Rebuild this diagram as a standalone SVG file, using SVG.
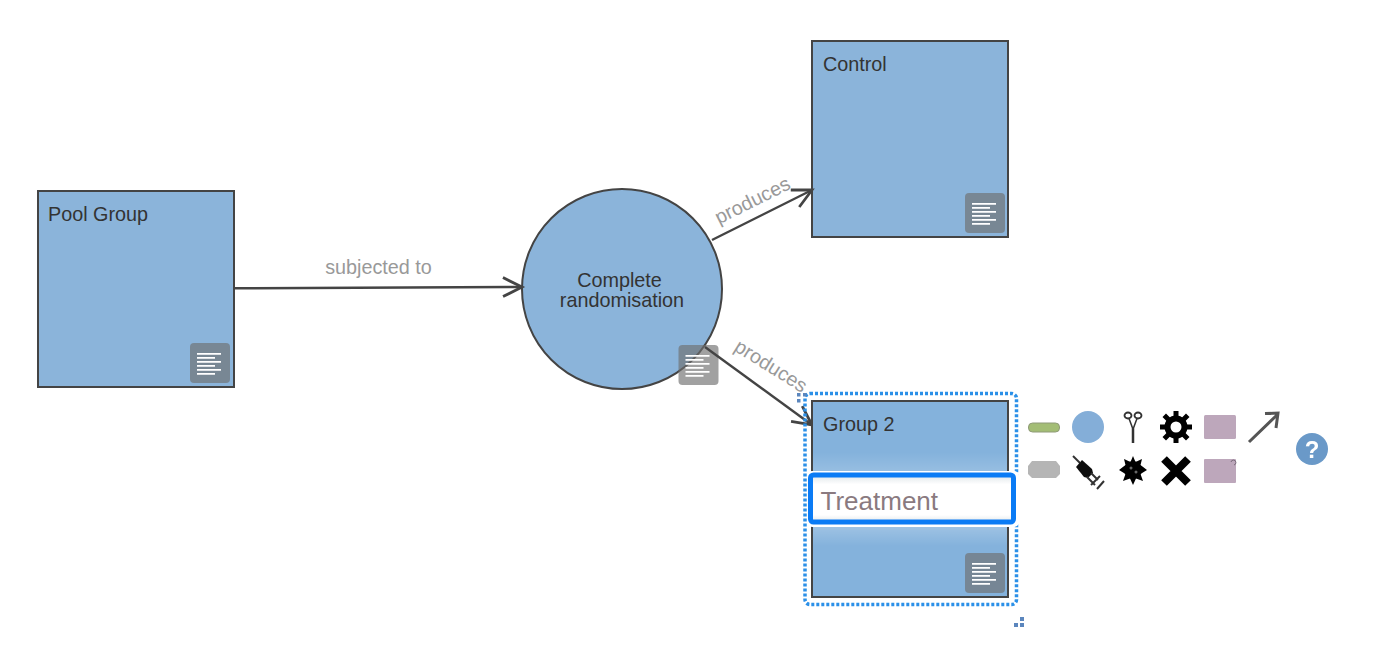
<svg xmlns="http://www.w3.org/2000/svg" width="1388" height="654" viewBox="0 0 1388 654">
<defs>
<g id="note"><rect x="0" y="0" width="40" height="40" rx="4" fill="#6e6e6e" fill-opacity="0.65"/><path d="M7 10.800H31M7 14.800H25M7 18.800H31M7 22.800H25M7 26.800H31M7 30.800H25" stroke="#fff" stroke-width="1.700" fill="none"/></g>
<marker id="arr" markerUnits="userSpaceOnUse" markerWidth="26" markerHeight="26" refX="22" refY="12" orient="auto" viewBox="0 0 26 24"><path d="M3 2.500L22 12L3 21.500" fill="none" stroke="#444" stroke-width="2.800"/></marker>
<linearGradient id="fade" x1="0" y1="0" x2="0" y2="1"><stop offset="0" stop-color="#dfe5e8"/><stop offset="0.2" stop-color="#fff"/><stop offset="0.85" stop-color="#fff"/><stop offset="1" stop-color="#e3e8ea"/></linearGradient>
<linearGradient id="glowUp" x1="0" y1="1" x2="0" y2="0"><stop offset="0" stop-color="#fff" stop-opacity="0.16"/><stop offset="1" stop-color="#fff" stop-opacity="0"/></linearGradient>
<linearGradient id="glowDown" x1="0" y1="0" x2="0" y2="1"><stop offset="0" stop-color="#fff" stop-opacity="0.22"/><stop offset="1" stop-color="#fff" stop-opacity="0"/></linearGradient>
<filter id="soft" x="-5%" y="-5%" width="110%" height="110%"><feGaussianBlur stdDeviation="0.55"/></filter>
</defs>
<style>
text{font-family:"Liberation Sans",Arial,sans-serif}
.box{fill:#8bb4da;stroke:#444;stroke-width:2}
.lab{font-size:19.800px;fill:#333}
.edge{font-size:19.800px;fill:#999}
.con{fill:none;stroke:#444;stroke-width:2.400;marker-end:url(#arr)}
.handle{fill:#5b86bd}
</style>
<g id="node-pool"><rect class="box" x="38" y="191" width="196" height="196"/><text class="lab" x="48" y="221">Pool Group</text><use href="#note" x="190" y="343"/></g>
<g id="node-control"><rect class="box" x="812" y="41" width="196" height="196"/><text class="lab" x="823" y="71">Control</text><use href="#note" x="965" y="193"/></g>
<g id="node-random"><circle class="box" cx="622" cy="289" r="100"/><text class="lab" x="619.500" y="287" text-anchor="middle">Complete</text><text class="lab" x="622" y="307" text-anchor="middle">randomisation</text><use href="#note" x="678.500" y="345"/></g>
<g id="connectors">
<path class="con" d="M235 288.300L522 287"/>
<path class="con" d="M712 240L812 190"/>
<path class="con" d="M705 347L812 425"/>
<text class="edge" x="378.500" y="274" text-anchor="middle">subjected to</text>
<text class="edge" transform="translate(719 224.500) rotate(-26.500)">produces</text>
<text class="edge" transform="translate(733 350) rotate(32)">produces</text>
</g>
<g id="node-group2"><rect x="812" y="401" width="196" height="196" fill="#84b2dc" stroke="#444" stroke-width="2"/><text class="lab" x="823" y="431">Group 2</text><use href="#note" x="965" y="553"/>
<rect x="813" y="452" width="194" height="20" fill="url(#glowUp)"/>
<rect x="813" y="526" width="194" height="20" fill="url(#glowDown)"/>
<rect x="805" y="393.500" width="211.500" height="211" rx="5" fill="none" stroke="#2b90e8" stroke-width="3.500" stroke-dasharray="3 2"/>
<rect x="807" y="471" width="212" height="56" rx="5" fill="#fff"/>
<rect x="810.500" y="475" width="203" height="47" rx="3" fill="url(#fade)" stroke="#0a7bf5" stroke-width="5"/>
<text x="820.500" y="510" font-size="26" fill="#8a7a80">Treatment</text></g>
<g id="handles">
<rect class="handle" x="797" y="393" width="3.500" height="3.500"/><rect class="handle" x="803" y="393" width="3.500" height="3.500"/><rect class="handle" x="797" y="399" width="3.500" height="3.500"/>
<rect class="handle" x="1020" y="617" width="4" height="4"/><rect class="handle" x="1014" y="623" width="4" height="4"/><rect class="handle" x="1020" y="623" width="4" height="4"/>
</g>
<g id="palette" filter="url(#soft)">
<rect x="1028.500" y="423" width="31" height="9" rx="4" fill="#a3bd75" stroke="#8f9a78" stroke-width="1"/>
<circle cx="1088" cy="427" r="16" fill="#84aed8"/>
<g fill="none" stroke="#333"><ellipse cx="1128" cy="415.500" rx="3.500" ry="3" stroke-width="1.800"/><ellipse cx="1138" cy="415.500" rx="3.500" ry="3" stroke-width="1.800"/><path d="M1129 418.500L1132.500 428V443M1137 418.500L1133.500 428V443" stroke-width="1.500"/></g>
<circle cx="1176" cy="427" r="8.500" fill="none" stroke="#000" stroke-width="6"/>
<path d="M1173.500 411h5v7h-5zM1173.500 436h5v7h-5zM1160 424.500h7v5h-7zM1185 424.500h7v5h-7zM1162.500 417l3.500-3.500 5 5-3.500 3.500zM1189.500 417l-3.500-3.500-5 5 3.500 3.500zM1162.500 437l3.500 3.500 5-5-3.500-3.500zM1189.500 437l-3.500 3.500-5-5 3.500-3.500z" fill="#000"/>
<rect x="1204" y="415" width="32" height="24" rx="1.500" fill="#bda7bb"/>
<path d="M1249 442L1277 415M1265 413.500L1278 413L1276 428" fill="none" stroke="#555" stroke-width="3"/>
<path d="M1032 461H1056L1060 466V474L1056 478H1032L1028 474V466Z" fill="#b5b5b5"/>
<path d="M1073 456L1081 464" stroke="#333" stroke-width="2"/>
<path d="M1082 460L1092 469L1093 473L1088 478L1084 477L1076 467Z" fill="#111"/>
<path d="M1091 473L1098 480M1087 477L1095 485M1100 476L1091 485M1104 481L1097 489" fill="none" stroke="#333" stroke-width="2"/>
<circle cx="1133" cy="470" r="9" fill="#000"/>
<path d="M1133 456L1135.500 462L1142 459L1140.500 465L1147 470L1140.500 474L1143 481L1136 478.500L1133 485L1130 478.500L1123 481L1125.500 474L1119 470L1125.500 465L1124 459L1130.500 462Z" fill="#000"/>
<circle cx="1131" cy="468" r="1.500" fill="#666"/><circle cx="1136" cy="472" r="1.500" fill="#666"/>
<path d="M1164 459L1188 483M1188 459L1164 483" stroke="#000" stroke-width="8"/>
<rect x="1204" y="459" width="32" height="24" rx="1" fill="#bda7bb"/><path d="M1231 462a2.500 2.500 0 1 1 3 3" fill="none" stroke="#7a6a7a" stroke-width="1"/>
<circle cx="1312" cy="449" r="16" fill="#6a99c8"/>
<text x="1312" y="458" font-size="24" font-weight="bold" fill="#fff" text-anchor="middle">?</text>
</g>
</svg>
